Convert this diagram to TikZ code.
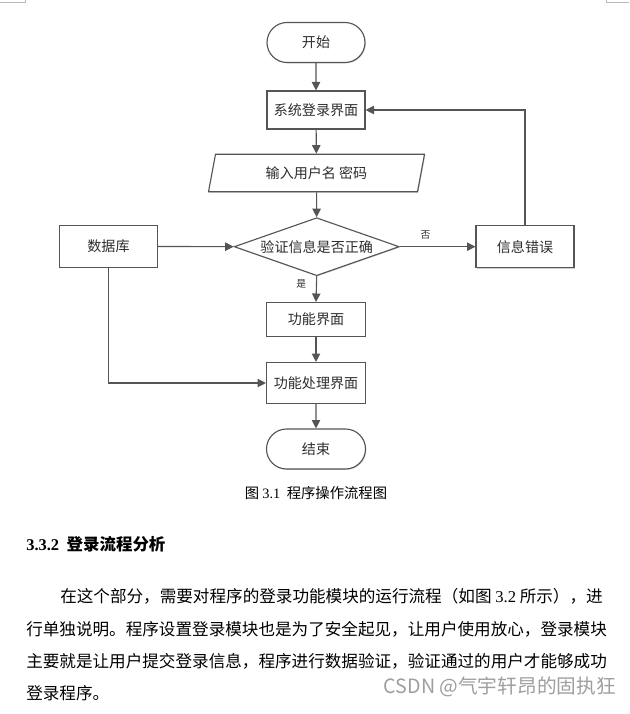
\documentclass[tikz,border=0pt]{standalone}
\usepackage{fontspec}
\setmainfont{Noto Sans CJK SC}
\newfontfamily\latinserif{Liberation Serif}
\usepackage{tikz}
\usetikzlibrary{shapes.geometric, shapes.misc, arrows.meta, positioning, shadows}
\definecolor{linegray}{RGB}{85, 85, 85}
\definecolor{textgray}{RGB}{45, 45, 45}
\definecolor{markgray}{RGB}{185, 185, 185}

\tikzset{
  flowbox/.style={draw=linegray, line width=0.8pt, fill=white, text=textgray, inner sep=0pt,
    font=\fontsize{10}{12}\selectfont,
    drop shadow={shadow xshift=0.6pt, shadow yshift=-0.6pt, fill=black!18, opacity=1}},
  procbox/.style={flowbox, rectangle, minimum width=2.45cm},
  termbox/.style={flowbox, rounded rectangle, minimum width=2.45cm, minimum height=1.0cm},
  iobox/.style={flowbox, trapezium, trapezium left angle=62, trapezium right angle=118,
    trapezium stretches body, minimum width=5.4cm, minimum height=0.94cm},
  decbox/.style={flowbox, diamond, aspect=2.85, minimum width=4.125cm, minimum height=1.45cm},
  flowarrow/.style={draw=linegray, line width=0.8pt, -{Triangle[length=6pt, width=6pt]}},
  branchlabel/.style={inner sep=0pt, text=textgray, font=\fontsize{7}{8}\selectfont},
  bodyline/.style={anchor=west, inner sep=0pt, font=\fontsize{11.8}{14}\selectfont}
}

\begin{document}
\begin{tikzpicture}
  \useasboundingbox (0, 0) rectangle (15.725, -17.85);

  % Page corner marks
  \draw[markgray, line width=0.5pt] (0, -0.0675) -- (0.625, -0.0675) -- (0.625, 0);
  \draw[markgray, line width=0.5pt] (15.725, -0.0675) -- (15.15, -0.0675) -- (15.15, 0);

  % Flow chart
  \node[termbox] (start) at (7.9, -1.0625) {开始};
  \node[procbox, minimum height=0.95cm] (login) at (7.9, -2.75) {系统登录界面};
  \node[iobox] (input) at (7.9125, -4.325) {输入用户名 密码};
  \node[decbox] (check) at (7.9175, -6.1675) {验证信息是否正确};
  \node[procbox, minimum height=1.05cm] (db) at (2.7125, -6.1575) {数据库};
  \node[procbox, minimum height=1.05cm] (wrong) at (13.125, -6.1675) {信息错误};
  \node[procbox, minimum height=0.85cm, minimum width=2.475cm] (func) at (7.9, -7.9875) {功能界面};
  \node[procbox, minimum height=1.025cm, minimum width=2.475cm] (handle) at (7.9, -9.575) {功能处理界面};
  \node[termbox, minimum width=2.475cm] (stop) at (7.9, -11.225) {结束};

  % Connectors
  \draw[flowarrow] (start) -- (login);
  \draw[flowarrow] (login) -- (input);
  \draw[flowarrow] (input) -- (check);
  \draw[flowarrow] (db) -- (check.west);
  \draw[flowarrow] (check.east) -- node[pos=0.34, above=0.17cm, branchlabel] {否} (wrong.west);
  \draw[flowarrow] (wrong.north) |- (login.east);
  \draw[flowarrow] (check.south) -- node[pos=0.3, left=0.24cm, branchlabel] {是} (func.north);
  \draw[flowarrow] (func) -- (handle);
  \draw[flowarrow] (db.south) |- (handle.west);
  \draw[flowarrow] (handle) -- (stop);

  % Caption and section text
  \node[inner sep=0pt, font=\fontsize{10.2}{12}\selectfont] (caption) at (7.9, -12.325) {图 {\latinserif 3.1}\ \ 程序操作流程图};
  \node[anchor=west, inner sep=0pt, font=\fontsize{11.7}{14}\selectfont\bfseries] (sechead) at (0.65, -13.6) {{\latinserif 3.3.2}\ \ 登录流程分析};

  \node[bodyline] (line1) at (1.5, -14.9) {在这个部分，需要对程序的登录功能模块的运行流程（如图 {\latinserif 3.2} 所示），进};
  \node[bodyline] (line2) at (0.65, -15.725) {行单独说明。程序设置登录模块也是为了安全起见，让用户使用放心，登录模块};
  \node[bodyline] (line3) at (0.65, -16.525) {主要就是让用户提交登录信息，程序进行数据验证，验证通过的用户才能够成功};
  \node[bodyline] (line4) at (0.65, -17.325) {登录程序。};

  % Watermark
  \node[anchor=east, inner sep=0pt, text=black!38, font=\fontsize{14}{16}\selectfont] (mark) at (15.4, -17.175) {CSDN @气宇轩昂的固执狂};
\end{tikzpicture}
\end{document}
